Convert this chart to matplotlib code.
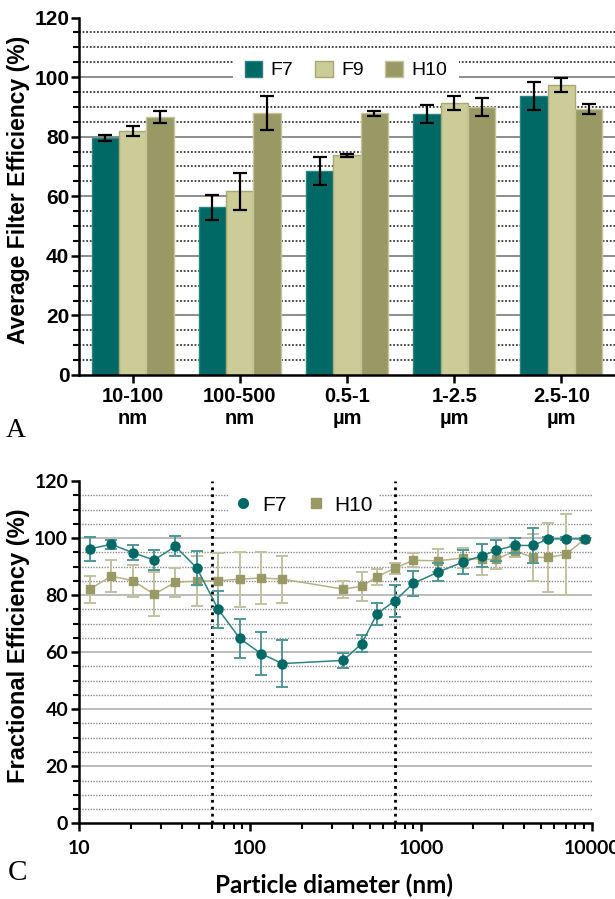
import numpy as np
import matplotlib
matplotlib.use('Agg')
import matplotlib.pyplot as plt
from matplotlib.patches import Patch
from matplotlib.lines import Line2D
from matplotlib.ticker import MultipleLocator, LogLocator, NullFormatter

plt.rcParams['font.family'] = ['Liberation Sans', 'DejaVu Sans']

# ---- panel A: average efficiency per size range ----
size_ranges = ['10-100\nnm', '100-500\nnm', '0.5-1\nµm', '1-2.5\nµm', '2.5-10\nµm']
f7_avg = [79.4, 56.3, 68.6, 87.6, 93.7]
f7_avg_err = [1.0, 4.2, 4.7, 3.0, 4.8]
f9_avg = [82.0, 61.6, 73.8, 91.4, 97.3]
f9_avg_err = [1.7, 6.3, 0.5, 2.3, 2.4]
h10_avg = [86.6, 88.0, 87.8, 90.0, 89.3]
h10_avg_err = [2.0, 5.7, 0.8, 2.9, 1.7]

# ---- panel C: fractional efficiency vs particle diameter ----
diameter_nm = [11.5, 15.4, 20.5, 27.4, 36.5, 48.7, 65.0, 87.0, 115.5, 154.0,
               350, 450, 551, 702, 900, 1250, 1760, 2270, 2760, 3530,
               4520, 5560, 7050, 9080]
f7_frac = [96.2, 97.8, 94.9, 92.3, 97.1, 89.5, 75.0, 64.8, 59.5, 56.0,
           57.1, 63.0, 73.4, 78.0, 84.1, 88.0, 91.6, 93.8, 95.7, 97.4,
           97.4, 99.7, 99.7, 99.7]
f7_frac_err = [4.2, 1.5, 2.7, 3.6, 3.5, 6.1, 6.6, 6.8, 7.6, 8.3,
               2.7, 3.0, 3.8, 5.7, 4.5, 3.2, 4.2, 4.0, 3.6, 2.6,
               6.1, 0.5, 0.5, 0.3]
h10_frac = [82.1, 86.6, 85.1, 80.3, 84.5, 84.9, 85.0, 85.6, 86.0, 85.6,
            82.1, 83.1, 86.4, 89.4, 92.2, 92.0, 93.0, 92.5, 92.5, 95.5,
            93.2, 93.2, 94.3, 99.7]
h10_frac_err = [4.7, 5.6, 5.6, 7.8, 5.0, 8.7, 9.6, 9.6, 9.0, 8.2,
                3.0, 5.0, 2.9, 1.9, 2.5, 4.0, 3.5, 5.4, 3.2, 2.2,
                8.2, 12.0, 14.2, 0.3]
boundaries_nm = [60, 700]

c_f7 = '#006966'
c_f9 = '#cccc99'
c_h10 = '#999966'

W, H = 615, 899
fig = plt.figure(figsize=(W / 100, H / 100), dpi=100)


def px_box(left, top, right, bottom):
    return [left / W, 1 - bottom / H, (right - left) / W, (bottom - top) / H]


def draw_grid(ax, major_color, minor_color, minor_lw):
    for v in range(5, 120, 5):
        if v % 20 == 0:
            ax.axhline(v, color=major_color, lw=1.2, zorder=0.5)
        else:
            ax.axhline(v, color=minor_color, lw=minor_lw, ls=(0, (1, 1)), zorder=0.5)


def style_spines(ax):
    for side in ['top', 'right']:
        ax.spines[side].set_visible(False)
    for side in ['left', 'bottom']:
        ax.spines[side].set_linewidth(1.8)
        ax.spines[side].set_color('black')


# panel A
ax_a = fig.add_axes(px_box(79, 17.5, 615, 375))
x = np.arange(len(size_ranges))
bw = 0.255
series = [(f7_avg, f7_avg_err, c_f7, '#2a8381', 'F7'),
          (f9_avg, f9_avg_err, c_f9, '#a8a872', 'F9'),
          (h10_avg, h10_avg_err, c_h10, '#c4c49a', 'H10')]
for i, (vals, errs, col, edge, name) in enumerate(series):
    xpos = x + (i - 1) * bw
    ax_a.bar(xpos, vals, width=bw, color=col, edgecolor=edge, lw=1, zorder=2)
    ax_a.errorbar(xpos, vals, yerr=errs, fmt='none', ecolor='black',
                  elinewidth=1.6, capsize=5, capthick=1.6, zorder=3)

draw_grid(ax_a, '#7a7a7a', '#3a3a3a', 1.3)
ax_a.set_xlim(-0.5, 4.5)
ax_a.set_ylim(0, 120)
ax_a.yaxis.set_major_locator(MultipleLocator(20))
ax_a.yaxis.set_minor_locator(MultipleLocator(5))
ax_a.set_xticks(x, size_ranges)
ax_a.tick_params(axis='y', which='major', length=6, width=1.8, pad=1, labelsize=15)
ax_a.tick_params(axis='y', which='minor', length=4, width=1.5)
ax_a.tick_params(axis='x', length=6, width=1.8, pad=3, labelsize=14.5)
for lbl in ax_a.get_xticklabels() + ax_a.get_yticklabels():
    lbl.set_fontweight('bold')
style_spines(ax_a)

handles_a = [Patch(facecolor=c_f7, edgecolor='#2a8381'),
             Patch(facecolor=c_f9, edgecolor='#a8a872'),
             Patch(facecolor=c_h10, edgecolor='#c4c49a')]
leg_a = ax_a.legend(handles_a, ['F7', 'F9', 'H10'], ncol=3, loc='center',
                    bbox_to_anchor=((346 - 79) / 536, (375 - 70) / 357.5),
                    fontsize=14, frameon=True, facecolor='white', edgecolor='none',
                    framealpha=1, fancybox=False, handlelength=0.9, handleheight=0.9,
                    handletextpad=0.45, columnspacing=1.1, borderpad=0.6)
leg_a.set_zorder(4)

fig.text(19 / W, 1 - 190 / H, 'Average Filter Efficiency (%)', rotation=90,
         ha='center', va='center', fontsize=16.5, fontweight='bold')
fig.text(6 / W, 1 - 437 / H, 'A', ha='left', va='baseline', fontsize=20,
         family=['Liberation Serif', 'DejaVu Serif'])

# panel C
ax_c = fig.add_axes(px_box(79.3, 481, 592, 823.3))
ax_c.set_xscale('log')
draw_grid(ax_c, '#b0b0b0', '#8c8c8c', 1.0)
for b in boundaries_nm:
    ax_c.axvline(b, color='black', lw=2, ls=(0, (1, 1.5)), zorder=1)

ax_c.errorbar(diameter_nm, h10_frac, yerr=h10_frac_err, fmt='-s', color='#b3b385',
              mfc=c_h10, mec=c_h10, ms=6, lw=1.1, ecolor='#c2c2a2',
              elinewidth=1.4, capsize=4, capthick=1.4, zorder=3)
ax_c.errorbar(diameter_nm, f7_frac, yerr=f7_frac_err, fmt='-o', color='#2a8381',
              mfc=c_f7, mec=c_f7, ms=6.5, lw=1.1, ecolor='#4f9896',
              elinewidth=1.4, capsize=4, capthick=1.4, zorder=4)

ax_c.set_xlim(10, 10000)
ax_c.set_ylim(0, 120)
ax_c.set_xticks([10, 100, 1000, 10000], ['10', '100', '1000', '10000'])
ax_c.xaxis.set_minor_locator(LogLocator(base=10, subs=range(2, 10)))
ax_c.xaxis.set_minor_formatter(NullFormatter())
ax_c.yaxis.set_major_locator(MultipleLocator(20))
ax_c.yaxis.set_minor_locator(MultipleLocator(5))
ax_c.tick_params(axis='both', which='major', length=6, width=1.8, labelsize=14)
ax_c.tick_params(axis='x', which='major', pad=6)
ax_c.tick_params(axis='y', which='major', pad=2)
ax_c.tick_params(axis='both', which='minor', length=4, width=1.5)
for lbl in ax_c.get_xticklabels() + ax_c.get_yticklabels():
    lbl.set_fontweight('bold')
    lbl.set_fontfamily(['Lato', 'DejaVu Sans'])
style_spines(ax_c)

handles_c = [Line2D([], [], ls='none', marker='o', ms=7, color=c_f7),
             Line2D([], [], ls='none', marker='s', ms=7, color=c_h10)]
leg_c = ax_c.legend(handles_c, ['F7', 'H10'], ncol=2, loc='center',
                    bbox_to_anchor=((304 - 79.3) / 512.7, (823.3 - 505) / 342.3),
                    fontsize=15, frameon=True, facecolor='white', edgecolor='none',
                    framealpha=1, fancybox=False, handlelength=0.8,
                    handletextpad=0.5, columnspacing=1.0, borderpad=0.3)
leg_c.set_zorder(5)

fig.text(19 / W, 1 - 646 / H, 'Fractional Efficiency (%)', rotation=90,
         ha='center', va='center', fontsize=17, fontweight='bold')
fig.text(334 / W, 1 - 893 / H, 'Particle diameter (nm)', ha='center', va='baseline',
         fontsize=17.5, fontweight='bold', family=['Lato', 'DejaVu Sans'])
fig.text(8 / W, 1 - 880 / H, 'C', ha='left', va='baseline', fontsize=21,
         family=['Liberation Serif', 'DejaVu Serif'])

fig.savefig('out.png', dpi=100)
